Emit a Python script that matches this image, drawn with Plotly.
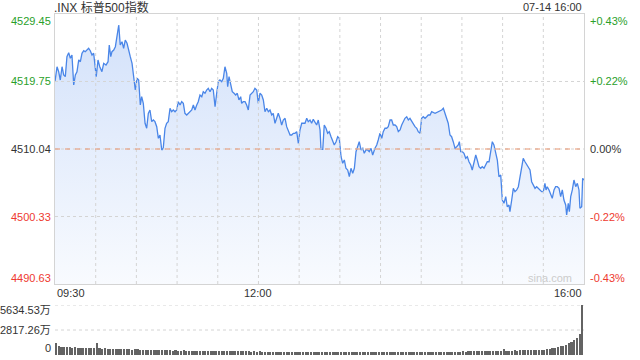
import plotly.graph_objects as go

# ---------------- data ----------------
# minutes after 09:30 (US session 09:30-16:00 = 390 minutes)
minutes = [
    0, 1.5, 2.7, 3.9, 5.2, 6.4, 7.6, 8.8, 10.1, 11.3,
    12.5, 13.8, 15.0, 16.2, 17.5, 18.7, 19.9, 21.2, 22.3, 23.6,
    24.8, 26.0, 27.3, 28.5, 29.7, 30.4, 31.7, 33.0, 34.6, 35.9,
    37.6, 39.1, 40.0, 41.1, 42.0, 43.3, 44.5, 45.7, 47.0, 48.1,
    49.4, 50.6, 51.8, 53.1, 54.3, 55.5, 56.8, 58.0, 59.2, 60.5,
    61.7, 62.9, 63.9, 65.1, 66.4, 67.6, 68.8, 70.0, 71.3, 72.5,
    73.7, 75.0, 76.2, 77.4, 78.7, 79.8, 81.1, 82.3, 83.5, 84.8,
    86.0, 87.2, 88.5, 89.7, 90.9, 92.2, 93.4, 94.6, 95.8, 97.1,
    98.3, 99.5, 100.8, 102.0, 103.2, 104.5, 105.6, 106.9, 108.2, 109.3,
    110.6, 111.8, 113.0, 114.3, 115.5, 116.7, 118.0, 119.2, 120.4, 121.6,
    122.9, 124.1, 125.3, 126.6, 127.3, 128.3, 129.5, 130.7, 132.0, 133.2,
    134.4, 135.6, 136.9, 137.6, 138.8, 140.1, 141.3, 142.5, 143.8, 145.0,
    146.2, 147.4, 148.7, 149.9, 151.1, 152.4, 153.6, 154.8, 156.1, 157.3,
    158.5, 159.8, 160.9, 162.2, 163.4, 164.6, 165.9, 167.1, 168.3, 169.6,
    170.8, 172.0, 173.3, 174.5, 175.7, 176.9, 178.2, 179.4, 180.6, 181.9,
    183.1, 184.3, 185.6, 186.7, 188.0, 189.2, 190.4, 191.7, 192.9, 194.1,
    195.4, 196.1, 197.4, 198.5, 199.8, 201.0, 202.2, 203.5, 204.7, 205.9,
    207.2, 208.4, 209.6, 210.9, 212.1, 213.3, 214.5, 215.8, 217.0, 218.2,
    219.5, 220.7, 221.9, 223.2, 224.3, 225.6, 226.9, 228.0, 229.3, 230.5,
    231.7, 233.0, 234.2, 235.9, 237.2, 238.3, 239.6, 240.9, 242.0, 243.3,
    244.5, 245.7, 247.0, 248.2, 249.4, 250.7, 251.9, 253.1, 254.4, 255.6,
    256.8, 258.0, 259.3, 260.5, 261.7, 263.0, 264.2, 265.4, 266.7, 267.8,
    269.1, 270.3, 271.5, 272.8, 274.0, 275.2, 276.5, 277.7, 280.2, 282.7,
    285.1, 286.3, 287.5, 288.8, 289.9, 291.2, 292.4, 293.6, 294.9, 296.1,
    297.3, 298.1, 299.1, 300.3, 301.5, 302.8, 304.0, 305.2, 306.5, 307.6,
    308.9, 310.2, 311.3, 312.6, 313.8, 315.0, 316.3, 317.5, 318.7, 320.0,
    321.2, 322.4, 323.6, 324.9, 326.1, 327.3, 328.6, 329.8, 331.0, 332.3,
    333.4, 334.7, 335.4, 336.7, 337.9, 339.1, 340.4, 341.6, 342.8, 344.1,
    345.2, 346.5, 347.8, 348.9, 350.2, 351.4, 352.6, 353.9, 355.1, 356.3,
    357.6, 358.8, 360.0, 361.2, 362.0, 362.9, 364.2, 365.4, 366.6, 367.9,
    369.1, 370.3, 371.6, 372.8, 374.0, 375.2, 376.5, 377.2, 378.4, 379.2,
    380.2, 381.4, 382.6, 383.9, 385.1, 386.3, 387.0, 388.3, 389.0, 390.0,
]

prices = [
    4519.72, 4521.87, 4521.15, 4519.96, 4521.87, 4520.68, 4520.44, 4523.31, 4523.89, 4523.08,
    4523.56, 4519.24, 4520.68, 4521.15, 4522.84, 4522.59, 4523.80, 4524.17, 4524.03, 4524.27,
    4524.52, 4524.17, 4523.56, 4523.80, 4520.92, 4520.44, 4522.84, 4521.87, 4521.15, 4522.36,
    4522.12, 4522.59, 4524.99, 4523.31, 4524.03, 4524.27, 4524.75, 4526.19, 4527.87, 4524.99,
    4525.47, 4524.52, 4525.71, 4525.24, 4524.03, 4523.31, 4522.36, 4520.44, 4518.52, 4520.21,
    4519.96, 4516.37, 4517.56, 4516.61, 4513.74, 4513.02, 4515.17, 4515.65, 4513.97, 4514.21,
    4513.97, 4513.25, 4511.58, 4512.05, 4509.90, 4510.14, 4513.02, 4513.74, 4513.97, 4515.89,
    4515.40, 4515.65, 4515.40, 4515.65, 4516.84, 4516.37, 4516.84, 4516.61, 4515.17, 4514.93,
    4515.17, 4515.40, 4515.65, 4516.37, 4515.65, 4516.37, 4516.84, 4517.80, 4517.56, 4518.28,
    4518.05, 4518.52, 4518.77, 4518.28, 4518.77, 4518.52, 4516.12, 4518.05, 4519.72, 4519.96,
    4519.72, 4520.21, 4521.87, 4520.92, 4519.00, 4520.44, 4519.24, 4518.28, 4518.05, 4517.80,
    4518.05, 4517.09, 4517.56, 4516.61, 4516.84, 4516.84, 4516.37, 4515.65, 4517.80, 4518.05,
    4518.28, 4518.77, 4518.52, 4516.61, 4518.05, 4517.80, 4517.09, 4515.40, 4515.89, 4515.40,
    4515.65, 4514.93, 4515.17, 4513.74, 4514.45, 4515.17, 4514.45, 4513.49, 4514.21, 4514.45,
    4513.25, 4512.77, 4512.05, 4512.05, 4512.30, 4512.30, 4512.53, 4510.86, 4512.77, 4513.74,
    4513.74, 4513.74, 4514.45, 4513.97, 4514.21, 4513.74, 4514.31, 4513.97, 4513.49, 4514.21,
    4512.77, 4510.00, 4510.00, 4513.49, 4513.02, 4512.30, 4512.53, 4511.81, 4511.33, 4510.62,
    4511.09, 4511.81, 4511.58, 4508.93, 4507.98, 4508.46, 4507.27, 4507.02, 4506.06, 4507.27,
    4506.55, 4507.27, 4509.65, 4510.37, 4511.09, 4509.90, 4510.14, 4509.42, 4509.90, 4509.90,
    4509.65, 4510.14, 4509.18, 4510.14, 4510.62, 4511.33, 4512.30, 4511.58, 4512.53, 4513.02,
    4513.02, 4513.25, 4514.21, 4514.21, 4513.49, 4513.49, 4513.25, 4512.53, 4512.77, 4513.49,
    4513.97, 4514.45, 4514.68, 4514.21, 4514.45, 4513.97, 4513.74, 4513.25, 4513.02, 4512.53,
    4512.30, 4514.45, 4514.68, 4514.45, 4514.68, 4514.93, 4514.93, 4515.40, 4515.17, 4515.40,
    4515.65, 4515.89, 4515.17, 4514.68, 4513.74, 4512.05, 4511.81, 4511.09, 4510.14, 4510.37,
    4510.62, 4511.09, 4509.65, 4509.65, 4509.42, 4508.70, 4508.93, 4508.21, 4507.74, 4507.02,
    4507.98, 4509.18, 4508.46, 4507.50, 4507.27, 4507.50, 4507.27, 4507.74, 4508.21, 4508.21,
    4509.65, 4511.09, 4510.62, 4509.18, 4508.46, 4506.06, 4506.30, 4502.71, 4502.23, 4503.18,
    4501.74, 4501.99, 4501.03, 4502.71, 4504.39, 4503.90, 4504.15, 4504.62, 4505.83, 4507.27,
    4508.70, 4508.21, 4507.74, 4507.50, 4507.02, 4505.34, 4504.86, 4504.39, 4504.62, 4504.39,
    4504.15, 4503.90, 4503.90, 4505.11, 4504.15, 4504.62, 4504.15, 4503.67, 4502.95, 4504.15,
    4504.62, 4504.62, 4504.39, 4503.18, 4504.15, 4502.71, 4501.99, 4500.55, 4502.23, 4501.03,
    4503.18, 4504.15, 4505.58, 4504.62, 4505.11, 4504.15, 4501.51, 4501.74, 4505.83, 4505.58,
]

# volume (万), one bar every 2 minutes
vol_wan = (
    [1352, 1014, 958, 902, 958, 902, 845, 902, 845, 789, 845, 789, 845, 789, 760]
    + [1330]
    + [789, 733, 760, 733, 700, 733, 676, 700, 676, 650, 676, 640, 620, 650]
    + [640, 620, 600, 620, 590, 564, 600, 564, 540, 564, 530, 564, 520, 507, 530,
       507, 490, 520, 480, 507, 470, 490, 460, 480, 451, 470, 440, 460, 430, 451]
    + [440, 460, 430, 420, 450, 430, 420, 440, 410, 420, 400, 420, 390, 410, 380,
       400, 380, 390, 370, 390, 380, 360, 390, 370, 350, 380, 360, 350, 370, 350]
    + [350, 370, 340, 360, 340, 350, 330, 350, 340, 320, 340, 330, 320, 340, 330,
       310, 340, 320, 310, 330, 320, 300, 320, 310, 300, 320, 310, 300, 320, 300,
       290, 310, 300, 320, 290, 310, 300, 290, 310, 300, 310, 290, 300, 320, 300]
    + [310, 330, 315, 340, 325, 350, 335, 360, 345, 370, 360, 380, 370, 390, 380,
       400, 390, 410, 400, 420, 410, 430, 420, 450, 440, 460, 450, 480, 470, 490]
    + [650]
    + [480, 500, 490, 510, 500, 530, 520, 540, 530, 560, 550, 580, 570, 600]
    + [620, 660, 700, 760, 820, 900, 960, 1060, 1160, 1300, 1450, 1650, 1900, 2350, 5634.53]
)
vol_minutes = [2 * i + 1 for i in range(len(vol_wan))]

price_ticks = [4490.63, 4500.33, 4510.04, 4519.75, 4529.45]
price_labels = ["4490.63", "4500.33", "4510.04", "4519.75", "4529.45"]
pct_labels = ["-0.43%", "-0.22%", "0.00%", "+0.22%", "+0.43%"]
prev_close = 4510.04
vol_ticks = [0, 2817.26, 5634.53]
vol_labels = ["0", "2817.26万", "5634.53万"]
time_ticks = [0, 150, 390]
time_labels = ["09:30", "12:00", "16:00"]
grid_minutes = list(range(30, 390, 30))
title_text = ".INX 标普500指数"
date_text = "07-14 16:00"

# ---------------- style ----------------
GREEN = "#2aa02a"
RED = "#ee3a2f"
DARK = "#333333"
GRID = "#d4d4d4"
FONT = "Liberation Sans, Arial, Noto Sans CJK SC, sans-serif"

fig = go.Figure()

fig.add_trace(go.Scatter(
    x=minutes, y=prices, mode="lines",
    line=dict(color="#4a86e8", width=1.3),
    fill="tozeroy",
    fillgradient=dict(type="vertical",
                      colorscale=[[0, "rgba(66,128,235,0.035)"],
                                  [1, "rgba(66,128,235,0.24)"]],
                      start=price_ticks[0], stop=price_ticks[-1]),
    hoverinfo="skip", xaxis="x", yaxis="y",
))

fig.add_trace(go.Bar(
    x=vol_minutes, y=vol_wan, width=1.2,
    marker=dict(color="#636363", line=dict(width=0)),
    hoverinfo="skip", xaxis="x2", yaxis="y2",
))

main_bottom = 71 / 341
vol_top = 50 / 341

fig.update_layout(
    width=640, height=360,
    margin=dict(l=55, r=56, t=14, b=5),
    paper_bgcolor="white", plot_bgcolor="white",
    showlegend=False, bargap=0,
    font=dict(family=FONT, size=11, color=DARK),
    xaxis=dict(domain=[0, 1], range=[0, 390], showgrid=False,
               showticklabels=False, ticks="", showline=True, linecolor="#d4d4d4",
               linewidth=1, mirror=True, zeroline=False, anchor="y"),
    yaxis=dict(domain=[main_bottom, 1], range=[price_ticks[0], price_ticks[-1]],
               showgrid=False, showticklabels=False, ticks="",
               showline=True, linecolor="#d4d4d4", linewidth=1, mirror=True,
               zeroline=False, anchor="x"),
    xaxis2=dict(domain=[0, 1], range=[0, 390], showticklabels=False, ticks="",
                showgrid=False, showline=False, zeroline=False, anchor="y2"),
    yaxis2=dict(domain=[0, vol_top], range=[0, vol_ticks[-1]],
                showgrid=False, showticklabels=False, ticks="",
                showline=False, zeroline=False, anchor="x2"),
)

# dotted grid drawn above the fill
shapes = []
for t in grid_minutes:
    shapes.append(dict(type="line", xref="x", yref="y", x0=t, x1=t,
                       y0=price_ticks[0], y1=price_ticks[-1], layer="above",
                       line=dict(color=GRID, width=1, dash="dot")))
for v in price_ticks[1:-1]:
    shapes.append(dict(type="line", xref="x", yref="y", x0=0, x1=390, y0=v, y1=v,
                       layer="above", line=dict(color=GRID, width=1, dash="dot")))
for v in vol_ticks[1:]:
    shapes.append(dict(type="line", xref="x2", yref="y2", x0=0, x1=390, y0=v, y1=v,
                       layer="below", line=dict(color=GRID, width=1, dash="dot")))
shapes.append(dict(type="line", xref="x", yref="y", x0=0, x1=390,
                   y0=prev_close, y1=prev_close, layer="above",
                   line=dict(color="#e8936c", width=1, dash="5px,5px")))
fig.update_layout(shapes=shapes)

ann = []
for i, (v, lab, pct) in enumerate(zip(price_ticks, price_labels, pct_labels)):
    col = RED if v < prev_close else (GREEN if v > prev_close else DARK)
    shift = 6 if i == 0 else (-7 if i == len(price_ticks) - 1 else 0)
    ann.append(dict(x=0, xref="paper", xanchor="right", xshift=-2,
                    y=v, yref="y", yanchor="middle", yshift=shift,
                    text=lab, showarrow=False, font=dict(color=col, size=11)))
    ann.append(dict(x=1, xref="paper", xanchor="left", xshift=4,
                    y=v, yref="y", yanchor="middle", yshift=shift,
                    text=pct, showarrow=False, font=dict(color=col, size=11)))

for i, (v, lab) in enumerate(zip(vol_ticks, vol_labels)):
    shift = 7 if i == 0 else (-5 if i == len(vol_ticks) - 1 else 0)
    ann.append(dict(x=0, xref="paper", xanchor="right", xshift=-2,
                    y=v, yref="y2", yanchor="middle", yshift=shift,
                    text=lab, showarrow=False, font=dict(color=DARK, size=11)))

anchors = ["left", "center", "right"]
for t, lab, a in zip(time_ticks, time_labels, anchors):
    ann.append(dict(x=t, xref="x", xanchor=a, y=(355 - 293) / 341, yref="paper",
                    yanchor="middle", text=lab, showarrow=False,
                    font=dict(color=DARK, size=11)))

ann.append(dict(x=0, xref="paper", xanchor="left", xshift=-3, y=1 + 7 / 341,
                yref="paper", yanchor="middle", text=title_text, showarrow=False,
                font=dict(color=DARK, size=12)))
ann.append(dict(x=1, xref="paper", xanchor="right", y=1 + 7 / 341,
                yref="paper", yanchor="middle", text=date_text, showarrow=False,
                font=dict(color=DARK, size=11)))
ann.append(dict(x=390, xref="x", xanchor="right", xshift=-10,
                y=price_ticks[0], yref="y", yanchor="middle", yshift=6,
                text="sina.com", showarrow=False,
                font=dict(color="#cccccc", size=11)))

fig.update_layout(annotations=ann)

fig.write_html("out.html", config={"displayModeBar": False},
               post_script="document.body.style.margin='0';document.body.style.overflow='hidden';")
